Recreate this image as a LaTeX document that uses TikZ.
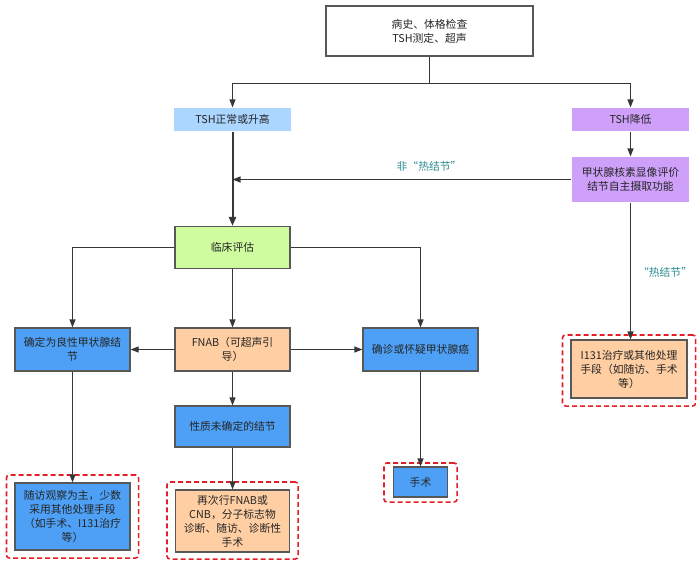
\documentclass[tikz,border=0pt]{standalone}
\usepackage{fontspec}
\setmainfont{Noto Sans CJK SC}
\usetikzlibrary{arrows.meta,fit}

\definecolor{boxblue}{RGB}{77,160,245}
\definecolor{paleblue}{RGB}{170,214,255}
\definecolor{lilac}{RGB}{206,160,250}
\definecolor{lime}{RGB}{206,252,158}
\definecolor{peach}{RGB}{255,206,162}
\definecolor{edgegray}{RGB}{88,88,88}
\definecolor{linegray}{RGB}{55,55,55}
\definecolor{hired}{RGB}{228,30,38}
\definecolor{teal}{RGB}{45,140,145}

\tikzset{
  box/.style={rectangle, draw=edgegray, line width=1.1pt, inner sep=0pt, align=center,
    minimum width=115pt, minimum height=43pt, text=black!85,
    font=\fontsize{10.8}{14}\selectfont},
  flat/.style={box, draw=none, minimum width=117pt, minimum height=23pt},
  conn/.style={draw=linegray, line width=1.1pt, -{Triangle[length=8pt,width=6pt]}},
  frame/.style={draw=hired, line width=1.6pt, dash pattern=on 5pt off 3pt, rounded corners=3pt},
  lbl/.style={text=teal, font=\fontsize{10.8}{12}\selectfont, inner sep=0pt}
}

\begin{document}
\begin{tikzpicture}[x=1pt, y=-1pt]
    \useasboundingbox (0,0) rectangle (700,565);

    \node[box, fill=white, minimum width=207pt, minimum height=50pt] (start) at (429.5,31)
        {病史、体格检查\\TSH测定、超声};
    \node[flat, fill=paleblue] (tshn) at (232.5,119.5) {TSH正常或升高};
    \node[flat, fill=lilac] (tshl) at (630.5,119.5) {TSH降低};
    \node[flat, fill=lilac, minimum height=45pt] (scan) at (630.5,179.5)
        {甲状腺核素显像评价\\结节自主摄取功能};
    \coordinate (join) at (232.5,179.5);
    \node[box, fill=lime, minimum height=42pt] (clin) at (232.5,247.5) {临床评估};
    \node[box, fill=boxblue] (benign) at (72.5,349.5) {确定为良性甲状腺结\\节};
    \node[box, fill=peach] (fnab) at (232.5,349.5) {FNAB（可超声引\\导）};
    \node[box, fill=boxblue] (cancer) at (420.5,349.5) {确诊或怀疑甲状腺癌};
    \node[box, fill=boxblue, minimum height=41pt] (undet) at (232.5,426.5) {性质未确定的结节};
    \node[box, fill=boxblue, minimum height=67pt] (follow) at (72.5,516.5)
        {随访观察为主，少数\\采用其他处理手段\\（如手术、I131治疗\\等）};
    \node[box, fill=peach, minimum height=62pt, minimum width=114pt] (refnab) at (232.5,521)
        {再次行FNAB或\\CNB，分子标志物\\诊断、随访、诊断性\\手术};
    \node[box, fill=boxblue, minimum width=54pt, minimum height=30pt] (surg) at (420.5,482) {手术};
    \node[box, fill=peach, minimum width=116pt, minimum height=58pt] (iodine) at (629,369)
        {I131治疗或其他处理\\手段（如随访、手术\\等）};

    % dashed frames round the end points
    \node[frame, fit=(follow), inner xsep=8pt, inner ysep=7.5pt] (followfr) {};
    \node[frame, fit=(refnab), inner xsep=8pt, inner ysep=7pt, yshift=0.5pt] (refnabfr) {};
    \node[frame, fit=(surg), inner xsep=9pt, inner ysep=4pt, yshift=-0.5pt] (surgfr) {};
    \node[frame, fit=(iodine), inner xsep=8pt, inner ysep=6pt, yshift=-1.5pt] (iodinefr) {};

    \draw[conn] (start.south) -- ++(0,26.5) -| (tshn.north);
    \draw[conn] (start.south) -- ++(0,26.5) -| (tshl.north);
    \draw[conn] (tshl) -- (scan);
    \draw[conn, line width=2pt, -{Triangle[length=9pt,width=7pt]}] (tshn) -- (clin);
    \draw[conn] (scan.west) -- node[lbl, above=8pt, pos=0.42] {非“热结节”} (join);
    \draw[conn] (scan.south) -- node[lbl, right=7pt, pos=0.51] {“热结节”} (scan.south |- iodine.north);
    \draw[conn] (clin.west) -| (benign.north);
    \draw[conn] (clin) -- (fnab);
    \draw[conn] (clin.east) -| (cancer.north);
    \draw[conn] (fnab) -- (benign);
    \draw[conn] (fnab) -- (cancer);
    \draw[conn] (fnab) -- (undet);
    \draw[conn] (benign) -- (follow);
    \draw[conn] (undet) -- (refnab);
    \draw[conn] (cancer) -- (surg);
\end{tikzpicture}
\end{document}
